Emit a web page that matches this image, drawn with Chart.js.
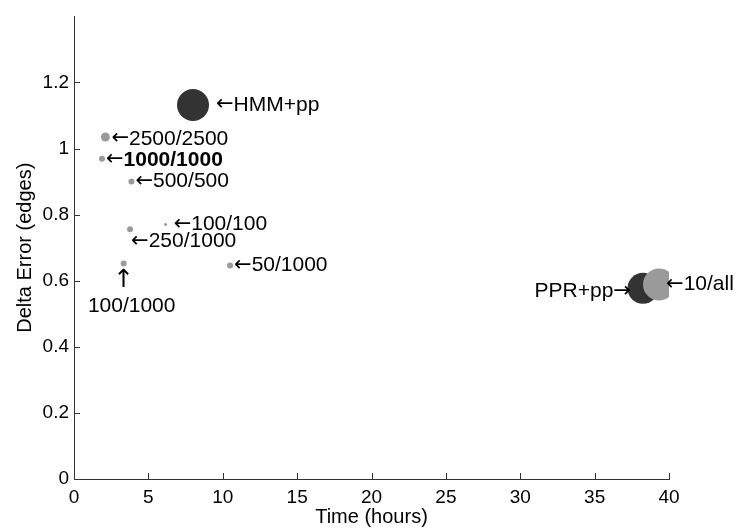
<!DOCTYPE html>
<html>
<head>
<meta charset="utf-8">
<script src="https://cdn.jsdelivr.net/npm/chart.js@4/dist/chart.umd.min.js"></script>
<style>
  html, body { margin: 0; padding: 0; background: #fff; }
  canvas { display: block; }
</style>
</head>
<body>
<canvas id="scatterChart" width="742" height="529"></canvas>
<script>
// Values
const runNames = ['HMM+pp', '2500/2500', '1000/1000', '500/500', '100/100', '250/1000', '100/1000', '50/1000', 'PPR+pp', '10/all'];
const timeHours = [8.0, 2.11, 1.88, 3.86, 6.16, 3.77, 3.34, 10.49, 38.25, 39.33];
const deltaError = [1.132, 1.035, 0.969, 0.900, 0.770, 0.756, 0.652, 0.646, 0.577, 0.589];
const xTicks = [0, 5, 10, 15, 20, 25, 30, 35, 40];
const yTicks = [0, 0.2, 0.4, 0.6, 0.8, 1, 1.2];

// Marker look
const dark = '#333333';
const gray = '#9a9a9a';
const markerRadius = [16, 4.5, 3, 3, 1.5, 3, 3, 3, 15.5, 16];
const markerColor = [dark, gray, gray, gray, gray, gray, gray, gray, dark, gray];

const fontFamily = '"Liberation Sans", Arial, Helvetica, sans-serif';
const arrowFont = '21px "DejaVu Sans", sans-serif';
const upArrowFont = '25px "DejaVu Sans", sans-serif';
const axisColor = '#333';

// Annotation next to each marker (offsets in pixels from the marker centre)
// arrow: which arrow glyph goes with the text and on which side
const labelSpecs = {
    'HMM+pp':    [{ text: 'HMM+pp', arrow: 'left', dx: 23, dy: 0, align: 'left' }],
    '2500/2500': [{ text: '2500/2500', arrow: 'left', dx: 6, dy: 2, align: 'left' }],
    '1000/1000': [{ text: '1000/1000', arrow: 'left', dx: 4, dy: 1, align: 'left', bold: true }],
    '500/500':   [{ text: '500/500', arrow: 'left', dx: 4, dy: 0, align: 'left' }],
    '100/100':   [{ text: '100/100', arrow: 'left', dx: 8, dy: 0, align: 'left' }],
    '250/1000':  [{ text: '250/1000', arrow: 'left', dx: 1, dy: 12, align: 'left' }],
    '100/1000':  [{ text: '', arrow: 'up', dx: 0, dy: 17, align: 'center' },
                  { text: '100/1000', dx: 8, dy: 43, align: 'center' }],
    '50/1000':   [{ text: '50/1000', arrow: 'left', dx: 4, dy: 0, align: 'left' }],
    'PPR+pp':    [{ text: 'PPR+pp', arrow: 'right', dx: -12, dy: 3, align: 'right' }],
    '10/all':    [{ text: '10/all', arrow: 'left', dx: 7, dy: 0, align: 'left' }]
};

const arrowGlyph = { left: '\u2190', right: '\u2192', up: '\u2191' };

const inwardTicks = {
    id: 'inwardTicks',
    beforeDatasetsDraw(chart) {
        const { ctx, chartArea, scales: { x, y } } = chart;
        ctx.save();
        ctx.strokeStyle = axisColor;
        ctx.lineWidth = 1;
        ctx.beginPath();
        xTicks.forEach(v => {
            const px = Math.round(x.getPixelForValue(v)) + 0.5;
            ctx.moveTo(px, chartArea.bottom);
            ctx.lineTo(px, chartArea.bottom - 6);
        });
        yTicks.forEach(v => {
            const py = Math.round(y.getPixelForValue(v)) + 0.5;
            ctx.moveTo(chartArea.left, py);
            ctx.lineTo(chartArea.left + 6, py);
        });
        ctx.stroke();
        ctx.restore();
    }
};

const pointLabels = {
    id: 'pointLabels',
    afterDatasetsDraw(chart) {
        const ctx = chart.ctx;
        const meta = chart.getDatasetMeta(0);
        ctx.save();
        ctx.fillStyle = '#000';
        ctx.textBaseline = 'middle';
        ctx.textAlign = 'left';
        runNames.forEach((name, i) => {
            const pt = meta.data[i];
            (labelSpecs[name] || []).forEach(spec => {
                const textFont = (spec.bold ? 'bold ' : '') + '21px ' + fontFamily;
                // build pieces: arrow glyph and text, each with its own font
                const pieces = [];
                if (spec.arrow === 'left') pieces.push({ s: arrowGlyph.left, f: arrowFont });
                if (spec.arrow === 'up') pieces.push({ s: arrowGlyph.up, f: upArrowFont });
                if (spec.text) pieces.push({ s: spec.text, f: textFont });
                if (spec.arrow === 'right') pieces.push({ s: arrowGlyph.right, f: arrowFont });
                let total = 0;
                pieces.forEach(p => { ctx.font = p.f; p.w = ctx.measureText(p.s).width; total += p.w; });
                let x = pt.x + spec.dx;
                if (spec.align === 'right') x -= total;
                else if (spec.align === 'center') x -= total / 2;
                pieces.forEach(p => {
                    ctx.font = p.f;
                    ctx.fillText(p.s, x, pt.y + spec.dy);
                    x += p.w;
                });
            });
        });
        ctx.restore();
    }
};

const ctx = document.getElementById('scatterChart').getContext('2d');

const scatterChart = new Chart(ctx, {
    type: 'scatter',
    data: {
        datasets: [{
            data: runNames.map((n, i) => ({ x: timeHours[i], y: deltaError[i] })),
            pointRadius: markerRadius,
            pointBackgroundColor: markerColor,
            pointBorderWidth: 0,
            pointBorderColor: markerColor
        }]
    },
    options: {
        responsive: false,
        animation: false,
        events: [],
        layout: { padding: { top: 10, right: 73, left: 0, bottom: 0 } },
        plugins: {
            legend: { display: false },
            tooltip: { enabled: false }
        },
        scales: {
            x: {
                type: 'linear',
                min: 0,
                max: 40,
                afterBuildTicks: scale => { scale.ticks = xTicks.map(v => ({ value: v })); },
                afterFit: scale => { scale.height = 50; },
                grid: { display: false, drawTicks: false, tickLength: 0 },
                border: { display: true, color: axisColor, width: 1 },
                ticks: {
                    padding: 7,
                    color: '#000',
                    maxRotation: 0,
                    font: { family: fontFamily, size: 19 }
                },
                title: {
                    display: true,
                    text: 'Time (hours)',
                    color: '#000',
                    padding: { top: 0, bottom: 0 },
                    font: { family: fontFamily, size: 20 }
                }
            },
            y: {
                type: 'linear',
                min: 0,
                max: 1.4,
                afterBuildTicks: scale => { scale.ticks = yTicks.map(v => ({ value: v })); },
                afterFit: scale => { scale.width = 74; },
                grid: { display: false, drawTicks: false, tickLength: 0 },
                border: { display: true, color: axisColor, width: 1 },
                ticks: {
                    padding: 5,
                    color: '#000',
                    font: { family: fontFamily, size: 19 },
                    callback: v => String(v)
                },
                title: {
                    display: true,
                    text: 'Delta Error (edges)',
                    color: '#000',
                    padding: { top: 13, bottom: 0 },
                    font: { family: fontFamily, size: 20 }
                }
            }
        }
    },
    plugins: [inwardTicks, pointLabels]
});
</script>
</body>
</html>
